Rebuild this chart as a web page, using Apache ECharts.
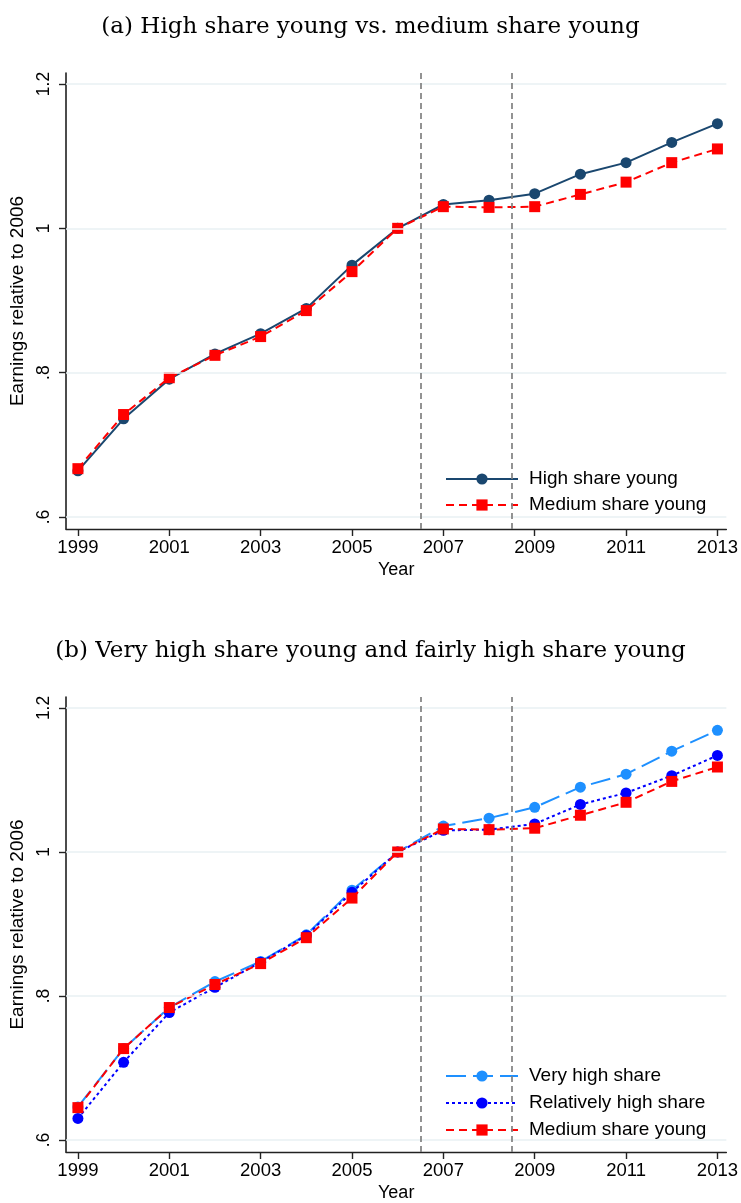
<!DOCTYPE html>
<html>
<head>
<meta charset="utf-8">
<title>Earnings relative to 2006</title>
<script src="https://cdn.jsdelivr.net/npm/echarts@6/dist/echarts.min.js"></script>
<style>
  html, body { margin: 0; padding: 0; background: #fff; }
  #chart { width: 741px; height: 1203px; }
</style>
</head>
<body>
<div id="chart"></div>
<script>
// Years on the horizontal axis
const years = [1999, 2000, 2001, 2002, 2003, 2004, 2005, 2006, 2007, 2008, 2009, 2010, 2011, 2012, 2013];

// Panel (a): earnings index, 2006 = 1
const highShareYoung   = [0.664, 0.736, 0.791, 0.826, 0.854, 0.889, 0.949, 1.000, 1.033, 1.039, 1.048, 1.075, 1.091, 1.119, 1.145];
const mediumShareA     = [0.667, 0.742, 0.793, 0.824, 0.850, 0.886, 0.940, 1.000, 1.030, 1.029, 1.030, 1.047, 1.064, 1.091, 1.110];

// Panel (b): earnings index, 2006 = 1
const veryHighShare    = [0.646, 0.727, 0.784, 0.820, 0.848, 0.885, 0.947, 1.000, 1.036, 1.047, 1.062, 1.090, 1.108, 1.140, 1.169];
const relHighShare     = [0.630, 0.708, 0.777, 0.812, 0.847, 0.884, 0.944, 1.000, 1.030, 1.031, 1.039, 1.066, 1.082, 1.106, 1.134];
const mediumShareB     = [0.645, 0.727, 0.784, 0.816, 0.845, 0.881, 0.936, 1.000, 1.032, 1.031, 1.033, 1.051, 1.069, 1.098, 1.118];

// Tick positions and labels
const xTicks = [1999, 2001, 2003, 2005, 2007, 2009, 2011, 2013];
const yTicks = [0.6, 0.8, 1, 1.2];
const yTickLabels = ['.6', '.8', '1', '1.2'];

// Reference lines between periods
const periodBreaks = [2006.5, 2008.5];

const titles = [
  '(a) High share young vs. medium share young',
  '(b) Very high share young and fairly high share young'
];

const SANS = '"Liberation Sans", Arial, Helvetica, sans-serif';
const SERIF = '"DejaVu Serif", serif';

const C_NAVY = '#1a476f';
const C_RED = '#ff0000';
const C_LIGHTBLUE = '#1e90ff';
const C_BLUE = '#0000ff';

function pairs(values) {
  return years.map((y, i) => [y, values[i]]);
}

function xAxisFor(gridIndex) {
  return {
    type: 'value',
    gridIndex,
    min: 1998.739,
    max: 2013.196,
    name: 'Year',
    nameLocation: 'middle',
    nameGap: 32,
    nameTextStyle: { fontFamily: SANS, fontSize: 18, color: '#000' },
    axisLine: { show: true, onZero: false, lineStyle: { color: '#222', width: 1.4 } },
    axisTick: { show: true, length: 7, customValues: xTicks, lineStyle: { color: '#222', width: 1.4 } },
    axisLabel: { customValues: xTicks, margin: 9, fontFamily: SANS, fontSize: 18.5, color: '#000',
                 formatter: v => String(v) },
    splitLine: { show: false }
  };
}

function yAxisFor(gridIndex) {
  return {
    type: 'value',
    gridIndex,
    min: 0.5834,
    max: 1.2152,
    name: 'Earnings relative to 2006',
    nameLocation: 'middle',
    nameGap: 27,
    nameRotate: 90,
    nameTextStyle: { fontFamily: SANS, fontSize: 19, color: '#000' },
    axisLine: { show: true, onZero: false, lineStyle: { color: '#111', width: 1.5 } },
    axisTick: { show: true, length: 7, customValues: yTicks, lineStyle: { color: '#222', width: 1.4 } },
    axisLabel: {
      customValues: yTicks, rotate: 90, margin: 13,
      fontFamily: SANS, fontSize: 17.5, color: '#000',
      formatter: v => {
        const k = yTicks.findIndex(t => Math.abs(t - v) < 1e-6);
        return k >= 0 ? yTickLabels[k] : '';
      }
    },
    splitLine: { show: false }
  };
}

// Background guides: horizontal grid lines and the dashed period breaks
function guideSeries(idx) {
  return {
    type: 'line',
    xAxisIndex: idx,
    yAxisIndex: idx,
    data: [],
    silent: true,
    z: 1,
    markLine: {
      silent: true,
      symbol: 'none',
      animation: false,
      label: { show: false },
      emphasis: { disabled: true },
      data: [
        ...yTicks.map(v => ({ yAxis: v, lineStyle: { color: '#e9f0f3', width: 1.6, type: 'solid' } })),
        ...periodBreaks.map(v => ({ xAxis: v, lineStyle: { color: '#808080', width: 1.7, type: [6, 4] } }))
      ]
    }
  };
}

function lineSeries(name, values, idx, color, symbol, dash, z) {
  return {
    type: 'line',
    name,
    xAxisIndex: idx,
    yAxisIndex: idx,
    data: pairs(values),
    symbol,
    symbolSize: 11,
    showSymbol: true,
    showAllSymbol: true,
    z,
    itemStyle: { color, borderWidth: 0 },
    lineStyle: { color, width: 2, type: dash },
    emphasis: { disabled: true },
    animation: false
  };
}

function legendFor(top, names, gap, padding) {
  return {
    orient: 'vertical',
    left: 435,
    top,
    data: names,
    itemWidth: 72,
    itemHeight: 14,
    itemGap: gap,
    padding,
    backgroundColor: '#ffffff',
    selectedMode: false,
    textStyle: { fontFamily: SANS, fontSize: 19, color: '#000', lineHeight: 20, padding: [0, 0, 0, 6] }
  };
}

const chart = echarts.init(document.getElementById('chart'), null, { renderer: 'canvas' });

chart.setOption({
  backgroundColor: '#ffffff',
  animation: false,
  title: [
    { text: titles[0], left: 'center', top: 11,
      textStyle: { fontFamily: SERIF, fontSize: 23, fontWeight: 'normal', color: '#000' } },
    { text: titles[1], left: 'center', top: 635,
      textStyle: { fontFamily: SERIF, fontSize: 23, fontWeight: 'normal', color: '#000' } }
  ],
  grid: [
    { left: 66, top: 73, width: 665, height: 456 },
    { left: 66, top: 697, width: 665, height: 457 }
  ],
  xAxis: [xAxisFor(0), xAxisFor(1)],
  yAxis: [yAxisFor(0), yAxisFor(1)],
  legend: [
    legendFor(460, ['High share young', 'Medium share young'], 6, [9, 19, 6, 10]),
    legendFor(1056, ['Very high share', 'Relatively high share', 'Medium share young'], 7, [10, 19, 8, 10])
  ],
  series: [
    guideSeries(0),
    lineSeries('High share young', highShareYoung, 0, C_NAVY, 'circle', 'solid', 2),
    lineSeries('Medium share young', mediumShareA, 0, C_RED, 'rect', [8, 5], 3),
    guideSeries(1),
    lineSeries('Very high share', veryHighShare, 1, C_LIGHTBLUE, 'circle', [20, 7], 2),
    lineSeries('Relatively high share', relHighShare, 1, C_BLUE, 'circle', [3, 3], 3),
    lineSeries('Medium share young', mediumShareB, 1, C_RED, 'rect', [8, 5], 4)
  ]
});
</script>
</body>
</html>
